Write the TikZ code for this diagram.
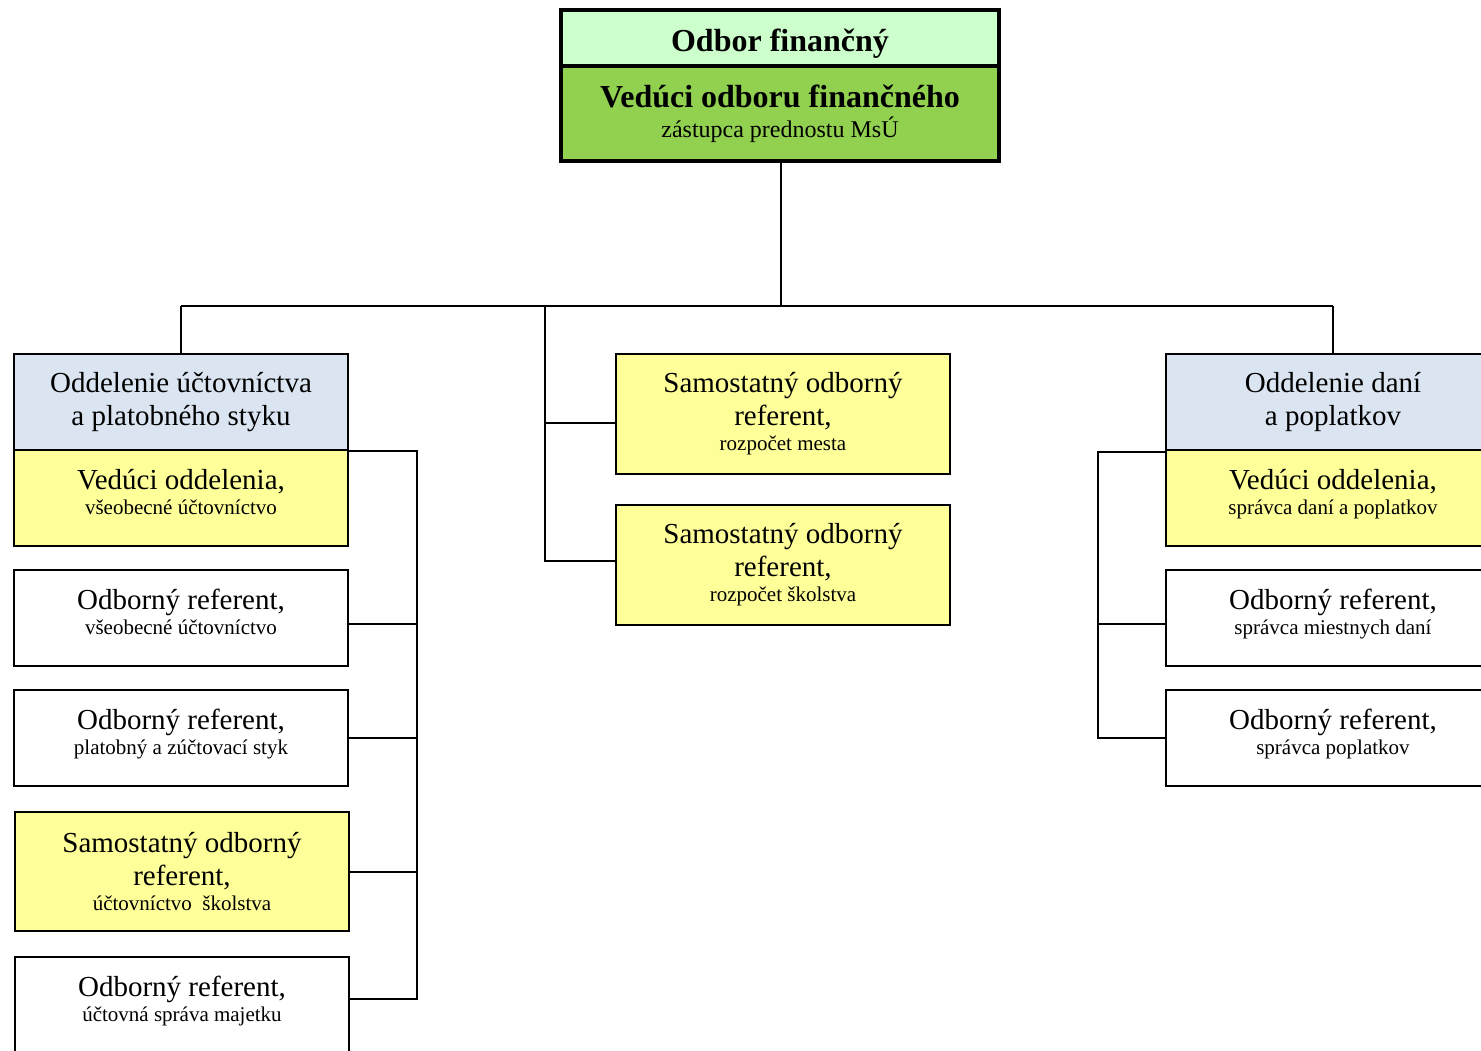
\documentclass[tikz,border=0pt]{standalone}
\usepackage{fontspec}
\setmainfont{Liberation Serif}
\definecolor{lgreen}{HTML}{CCFFCC}
\definecolor{dgreen}{HTML}{92D050}
\definecolor{hdrblue}{HTML}{DBE5F1}
\definecolor{lyellow}{HTML}{FFFF99}
\newcommand\fzL{\fontsize{29}{33}\selectfont}
\newcommand\fzS{\fontsize{21}{25}\selectfont}
\newcommand\fzM{\fontsize{24}{28}\selectfont}
\newcommand\fzB{\fontsize{32}{37}\selectfont\bfseries}
\newcommand\lowpad{\rule[-12pt]{0pt}{0pt}}
\tikzset{
  box/.style={draw, line width=2pt, minimum width=334pt, minimum height=96pt,
    align=center, inner sep=0pt, font=\fzL},
  tallbox/.style={box, minimum height=120pt},
  hdr/.style={box, fill=hdrblue},
  ylw/.style={fill=lyellow},
  wire/.style={line width=2pt},
}
\begin{document}
\begin{tikzpicture}[x=1pt,y=-1pt]
\useasboundingbox (0,0) rectangle (1481,1050);
\clip (0,0) rectangle (1481,1050);
\fill[white] (0,0) rectangle (1481,1050);

% top box
\node[draw, line width=3.5pt, fill=lgreen, minimum width=438pt, minimum height=56pt,
  inner sep=0pt, font=\fzB] (head) at (780,38) {\rule{0pt}{34pt}Odbor finančný};
\node[draw, line width=3.5pt, fill=dgreen, minimum width=438pt, minimum height=95pt,
  inner sep=0pt, align=center, font=\fzB] (chief) at (780,113.5)
  {Vedúci odboru finančného\\[-7pt]{\fzM\mdseries zástupca prednostu MsÚ}};

% left department
\node[hdr] (hl) at (181,402) {Oddelenie účtovníctva\\a platobného styku};
\node[box, ylw] (vl) at (181,498) {Vedúci oddelenia,\\[-8pt]{\fzS všeobecné účtovníctvo\lowpad}};
\node[box] (l2) at (181,618) {Odborný referent,\\[-8pt]{\fzS všeobecné účtovníctvo\lowpad}};
\node[box] (l3) at (181,737.5) {Odborný referent,\\[-8pt]{\fzS platobný a zúčtovací styk\lowpad}};
\node[tallbox, ylw, minimum height=119pt] (l4) at (182,871.5) {Samostatný odborný\\referent,\\[-8pt]{\fzS účtovníctvo~ školstva}};
\node[box] (l5) at (182,1005) {Odborný referent,\\[-8pt]{\fzS účtovná správa majetku\lowpad}};

% middle
\node[tallbox, ylw] (s1) at (783,414) {Samostatný odborný\\referent,\\[-8pt]{\fzS rozpočet mesta}};
\node[tallbox, ylw] (s2) at (783,564.5) {Samostatný odborný\\referent,\\[-8pt]{\fzS rozpočet školstva}};

% right department
\node[hdr] (hr) at (1333,402) {Oddelenie daní\\a poplatkov};
\node[box, ylw] (vr) at (1333,498) {Vedúci oddelenia,\\[-8pt]{\fzS správca daní a poplatkov\lowpad}};
\node[box] (r2) at (1333,618) {Odborný referent,\\[-8pt]{\fzS správca miestnych daní\lowpad}};
\node[box] (r3) at (1333,737.5) {Odborný referent,\\[-8pt]{\fzS správca poplatkov\lowpad}};

% connectors
\coordinate (j0) at (781,306);
\coordinate (jl) at (181,306);
\coordinate (jr) at (1333,306);
\coordinate (jm) at (545,306);
\coordinate (lb) at (417,999);
\coordinate (rb) at (1098,738);

\draw[wire] (chief.south -| j0) -- (j0);
\draw[wire] (jl) -- (jr);
\draw[wire] (jl) -- (hl.north);
\draw[wire] (jr) -- (hr.north);
\draw[wire] (jm) |- ([yshift=-9pt]s1.west);
\draw[wire] (jm) |- ([yshift=4pt]s2.west);

\draw[wire] ([yshift=-2pt]vl.north east) -| (lb) -- (lb -| l5.east);
\draw[wire] ([yshift=-6pt]l2.east) -- ([yshift=-6pt]l2.east -| lb);
\draw[wire] (l3.east) -- (l3.east -| lb);
\draw[wire] (l4.east) -- (l4.east -| lb);

\draw[wire] ([yshift=-3pt]vr.north west) -| (rb) -- (rb -| r3.west);
\draw[wire] ([yshift=-6pt]r2.west) -- ([yshift=-6pt]r2.west -| rb);
\end{tikzpicture}
\end{document}
